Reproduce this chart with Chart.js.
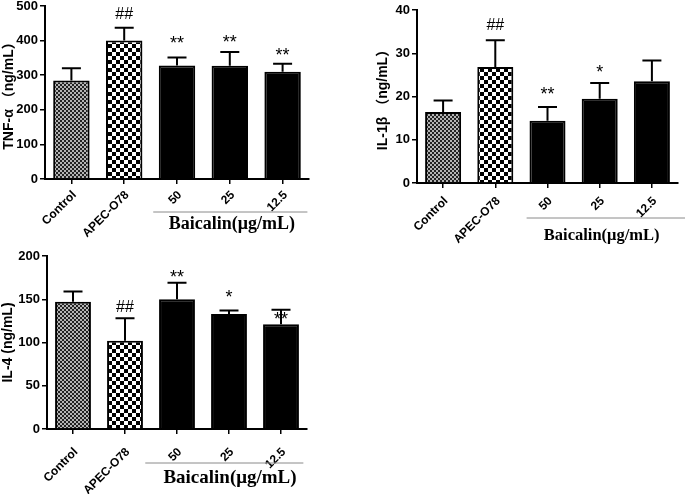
<!DOCTYPE html>
<html>
<head>
<meta charset="utf-8">
<script src="https://cdn.jsdelivr.net/npm/chart.js@4.4.0/dist/chart.umd.min.js"></script>
<style>
body { margin: 0; background: #fff; }
#wrap { position: relative; width: 685px; height: 494px; }
.panel { position: absolute; }
</style>
</head>
<body>
<div id="wrap">
  <div class="panel" style="left:0;top:0;width:320px;height:245px"><canvas id="tnf"></canvas></div>
  <div class="panel" style="left:372px;top:0;width:313px;height:250px"><canvas id="il1b"></canvas></div>
  <div class="panel" style="left:0;top:245px;width:320px;height:249px"><canvas id="il4"></canvas></div>
</div>
<script>
// groups shared by all three panels
let groups = ['Control', 'APEC-O78', '50', '25', '12.5']
let groupLabel = 'Baicalin(μg/mL)'

// TNF-α
let tnfMean = [285, 400, 328, 327, 310]
let tnfSem = [35, 37, 23, 40, 23]
let tnfMarks = ['', '##', '**', '**', '**']
let tnfTicks = [0, 100, 200, 300, 400, 500]

// IL-1β
let il1bMean = [16.4, 26.8, 14.4, 19.5, 23.5]
let il1bSem = [2.7, 6.2, 3.2, 3.6, 4.8]
let il1bMarks = ['', '##', '**', '*', '']
let il1bTicks = [0, 10, 20, 30, 40]

// IL-4
let il4Mean = [147, 102, 150, 133, 121]
let il4Sem = [12, 26, 19, 4, 17]
let il4Marks = ['', '##', '**', '*', '**']
let il4Ticks = [0, 50, 100, 150, 200]

let sans = '"Liberation Sans", Arial, "Noto Sans CJK SC", sans-serif'
let serif = '"Liberation Serif", "Times New Roman", serif'

// checkerboard fill used for the two control bars
function checker(cell, dark, light) {
    let c = document.createElement('canvas')
    c.width = c.height = cell * 2
    let g = c.getContext('2d')
    g.fillStyle = light
    g.fillRect(0, 0, cell * 2, cell * 2)
    g.fillStyle = dark
    g.fillRect(0, 0, cell, cell)
    g.fillRect(cell, cell, cell, cell)
    return g.createPattern(c, 'repeat')
}

let fills = [checker(2, '#222', '#b4b4b4'), checker(4, '#000', '#fff'), '#000', '#000', '#000']

function makePanel(id, title, mean, sem, marks, ticks, p) {
    // error bars, significance marks and the Baicalin bracket
    let extras = {
        id: 'extras',
        afterDatasetsDraw(chart) {
            let ctx = chart.ctx
            let x = chart.scales.x
            let y = chart.scales.y
            let bars = chart.getDatasetMeta(0).data
            ctx.save()
            ctx.strokeStyle = '#000'
            ctx.lineWidth = 2
            bars.forEach(function(bar, i) {
                let top = y.getPixelForValue(mean[i] + sem[i])
                ctx.beginPath()
                ctx.moveTo(bar.x, bar.y)
                ctx.lineTo(bar.x, top)
                ctx.moveTo(bar.x - 9.5, top)
                ctx.lineTo(bar.x + 9.5, top)
                ctx.stroke()
                if (marks[i]) {
                    let star = marks[i].indexOf('*') >= 0
                    ctx.fillStyle = '#000'
                    ctx.font = (star ? 18 : 16) + 'px ' + sans
                    ctx.textAlign = 'center'
                    ctx.textBaseline = 'alphabetic'
                    ctx.fillText(marks[i], bar.x, top - p.markGap[i] + (star ? 10 : 6))
                }
            })
            // grey line under the three Baicalin doses
            let step = x.getPixelForValue(1) - x.getPixelForValue(0)
            let lx0 = x.getPixelForValue(2) - p.lineFrom * step
            let lx1 = x.getPixelForValue(4) + p.lineTo * step
            let ly = chart.chartArea.bottom + p.lineY
            ctx.strokeStyle = '#8a8a8a'
            ctx.lineWidth = 1
            ctx.beginPath()
            ctx.moveTo(lx0, ly)
            ctx.lineTo(lx1, ly)
            ctx.stroke()
            ctx.fillStyle = '#000'
            ctx.font = 'bold ' + p.labelSize + 'px ' + serif
            ctx.textAlign = 'center'
            ctx.textBaseline = 'middle'
            ctx.fillText(groupLabel, x.getPixelForValue(3) + p.labelDx, chart.chartArea.bottom + p.labelY)
            ctx.restore()
        }
    }

    return new Chart(document.getElementById(id), {
        type: 'bar',
        data: {
            labels: groups,
            datasets: [{
                data: mean,
                backgroundColor: fills,
                borderColor: '#000',
                borderWidth: 2,
                barPercentage: 0.69,
                categoryPercentage: 1
            }]
        },
        options: {
            responsive: true,
            maintainAspectRatio: false,
            animation: false,
            layout: { padding: { top: p.top, right: p.right, left: 0, bottom: 0 } },
            plugins: { legend: { display: false }, tooltip: { enabled: false } },
            scales: {
                x: {
                    grid: { drawOnChartArea: false, offset: false, color: '#000', lineWidth: 1.5, tickLength: 5 },
                    border: { color: '#000', width: 2 },
                    ticks: { color: '#000', minRotation: 45, maxRotation: 45, padding: p.tickPad, labelOffset: 3, font: { family: sans, size: 12, weight: 'bold' } },
                    afterFit: function(s) { s.height = p.xh; s.paddingLeft = 0; s.paddingRight = 0 }
                },
                y: {
                    min: ticks[0],
                    max: ticks[ticks.length - 1],
                    grid: { drawOnChartArea: false, color: '#000', lineWidth: 1.5, tickLength: 5 },
                    border: { color: '#000', width: 2 },
                    ticks: { color: '#000', stepSize: ticks[1] - ticks[0], padding: 2, font: { family: sans, size: 13, weight: 'bold' } },
                    title: { display: true, text: title, color: '#000', padding: { top: p.titlePad, bottom: 0 }, font: { family: sans, size: 14, weight: 'bold' } },
                    afterFit: function(s) { s.width = p.yw; s.paddingTop = 0; s.paddingBottom = 0 }
                }
            }
        },
        plugins: [extras]
    })
}

makePanel('tnf', 'TNF-α （ng/mL）', tnfMean, tnfSem, tnfMarks, tnfTicks,
    { top: 6, right: 11, xh: 66, yw: 45, titlePad: 1, tickPad: 4, markGap: [0, 15, 19, 14, 12.5],
      lineFrom: 0.45, lineTo: 0.47, lineY: 33, labelSize: 18, labelDx: 2, labelY: 45 })
makePanel('il1b', 'IL-1β （ng/mL）', il1bMean, il1bSem, il1bMarks, il1bTicks,
    { top: 10, right: 7, xh: 67, yw: 45, titlePad: 3, tickPad: 6, markGap: [0, 16, 17, 15, 0],
      lineFrom: 0.4, lineTo: 0.7, lineY: 35, labelSize: 16.5, labelDx: 2, labelY: 53 })
makePanel('il4', 'IL-4 (ng/mL)', il4Mean, il4Sem, il4Marks, il4Ticks,
    { top: 11, right: 13, xh: 65, yw: 47, titlePad: 0, tickPad: 11, markGap: [0, 12, 9.5, 17, -5],
      lineFrom: 0.61, lineTo: 0.43, lineY: 34, labelSize: 19, labelDx: 1, labelY: 49 })
</script>
</body>
</html>
